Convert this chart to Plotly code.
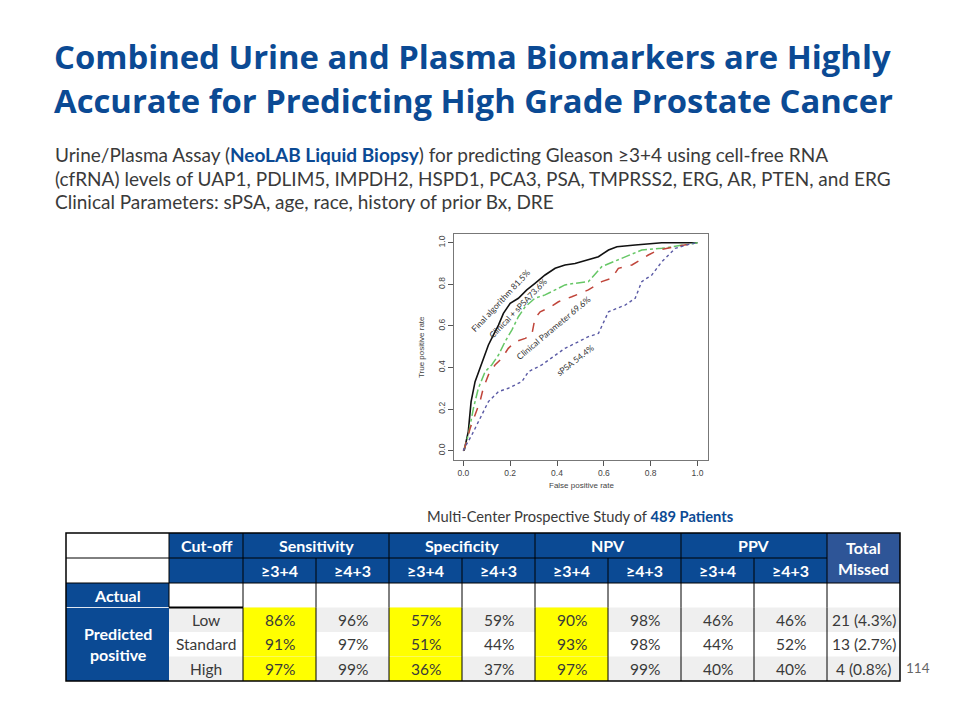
import plotly.graph_objects as go

# ---------------- data ----------------
final_fpr = [0.0, 0.004, 0.021, 0.033, 0.050, 0.071, 0.093, 0.107, 0.128, 0.150, 0.171, 0.200, 0.235, 0.271, 0.306, 0.349, 0.392, 0.434, 0.477, 0.534, 0.577, 0.620, 0.656, 0.734, 0.848, 1.0]
final_tpr = [0.0, 0.003, 0.091, 0.236, 0.332, 0.396, 0.460, 0.508, 0.556, 0.604, 0.660, 0.709, 0.733, 0.773, 0.805, 0.845, 0.877, 0.893, 0.900, 0.917, 0.933, 0.965, 0.981, 0.989, 1.0, 1.0]

clin_spsa_fpr = [0.0, 0.004, 0.021, 0.043, 0.064, 0.093, 0.121, 0.150, 0.178, 0.207, 0.235, 0.264, 0.306, 0.349, 0.392, 0.434, 0.477, 0.534, 0.591, 0.662, 0.762, 0.848, 0.947, 1.0]
clin_spsa_tpr = [0.0, 0.008, 0.075, 0.204, 0.300, 0.380, 0.412, 0.460, 0.524, 0.580, 0.644, 0.692, 0.733, 0.749, 0.773, 0.797, 0.805, 0.813, 0.885, 0.917, 0.965, 0.973, 0.989, 1.0]

clin_fpr = [0.0, 0.006, 0.029, 0.050, 0.071, 0.085, 0.107, 0.135, 0.164, 0.192, 0.221, 0.264, 0.292, 0.306, 0.328, 0.363, 0.406, 0.463, 0.534, 0.591, 0.634, 0.662, 0.720, 0.790, 0.833, 0.905, 1.0]
clin_tpr = [0.0, 0.015, 0.108, 0.172, 0.236, 0.300, 0.364, 0.412, 0.444, 0.492, 0.524, 0.540, 0.556, 0.637, 0.668, 0.685, 0.716, 0.740, 0.773, 0.813, 0.829, 0.877, 0.893, 0.941, 0.965, 0.981, 1.0]

spsa_fpr = [0.0, 0.006, 0.036, 0.079, 0.107, 0.150, 0.192, 0.250, 0.278, 0.335, 0.392, 0.434, 0.477, 0.534, 0.577, 0.620, 0.691, 0.734, 0.762, 0.805, 0.848, 0.905, 0.962, 1.0]
spsa_tpr = [0.0, 0.015, 0.075, 0.172, 0.236, 0.284, 0.300, 0.332, 0.380, 0.412, 0.460, 0.492, 0.516, 0.548, 0.564, 0.668, 0.700, 0.733, 0.813, 0.845, 0.909, 0.973, 0.992, 1.0]

curve_labels = ["Final algorithm 81.5%", "Clinical + sPSA73.6%", "Clinical Parameter 69.6%", "sPSA 54.4%"]

col_groups = ["Sensitivity", "Specificity", "NPV", "PPV"]
sub_heads = ["≥3+4", "≥4+3"]
cutoffs = ["Low", "Standard", "High"]
sens_34 = ["86%", "91%", "97%"]
sens_43 = ["96%", "97%", "99%"]
spec_34 = ["57%", "51%", "36%"]
spec_43 = ["59%", "44%", "37%"]
npv_34 = ["90%", "93%", "97%"]
npv_43 = ["98%", "98%", "99%"]
ppv_34 = ["46%", "44%", "40%"]
ppv_43 = ["46%", "52%", "40%"]
total_missed = ["21 (4.3%)", "13 (2.7%)", "4 (0.8%)"]

# ---------------- styles / page geometry ----------------
BLUE = "#0B4A94"
BLUE2 = "#2E5597"
TXT = "#3a3a3a"
FONT = "Lato"
OFF = 8            # page body margin of the browser
W, H = 944, 704    # figure size (fits inside the 960x720 window)


def px(x):
    return (x - OFF) / W


def py(y):
    return 1 - (y - OFF) / H


fig = go.Figure()

# ROC curves
fig.add_trace(go.Scatter(x=final_fpr, y=final_tpr, mode="lines", line=dict(color="#111111", width=1.6), xaxis="x", yaxis="y"))
fig.add_trace(go.Scatter(x=clin_spsa_fpr, y=clin_spsa_tpr, mode="lines", line=dict(color="#66c766", width=1.5, dash="dashdot"), xaxis="x", yaxis="y"))
fig.add_trace(go.Scatter(x=clin_fpr, y=clin_tpr, mode="lines", line=dict(color="#c0453a", width=1.5, dash="dash"), xaxis="x", yaxis="y"))
fig.add_trace(go.Scatter(x=spsa_fpr, y=spsa_tpr, mode="lines", line=dict(color="#5a5aa5", width=1.4, dash="dot"), xaxis="x", yaxis="y"))

ann = []
label_pos = [(0.158, 0.722, -47), (0.236, 0.684, -46), (0.385, 0.590, -40), (0.480, 0.436, -38)]
for lab, (lx, ly, ang) in zip(curve_labels, label_pos):
    ann.append(dict(x=lx, y=ly, xref="x", yref="y", text=lab, showarrow=False, textangle=ang,
                    font=dict(family=FONT, size=8.5, color="#333")))

ann.append(dict(x=px(581), y=py(492), xref="paper", yref="paper", text="False positive rate", showarrow=False,
                font=dict(family="Liberation Sans", size=8, color="#444")))
ann.append(dict(x=px(422), y=py(347), xref="paper", yref="paper", text="True positive rate", showarrow=False, textangle=-90,
                font=dict(family="Liberation Sans", size=8, color="#444")))

# Title and text
title_lines = ["Combined Urine and Plasma Biomarkers are Highly", "Accurate for Predicting High Grade Prostate Cancer"]
for i, t in enumerate(title_lines):
    ann.append(dict(x=px(52), y=py(57 + 44 * i), xref="paper", yref="paper", xanchor="left", yanchor="middle",
                    text="<b>" + t + "</b>", showarrow=False, font=dict(family="Open Sans", size=32.8, color=BLUE)))
sub_lines = [
    'Urine/Plasma Assay (<b><span style="color:%s">NeoLAB Liquid Biopsy</span></b>) for predicting Gleason ≥3+4 using cell-free RNA' % BLUE,
    "(cfRNA) levels of UAP1, PDLIM5, IMPDH2, HSPD1, PCA3, PSA, TMPRSS2, ERG, AR, PTEN, and ERG",
    "Clinical Parameters: sPSA, age, race, history of prior Bx, DRE",
]
for i, t in enumerate(sub_lines):
    ann.append(dict(x=px(53), y=py(155 + 23 * i), xref="paper", yref="paper", xanchor="left", yanchor="middle",
                    text=t, showarrow=False, font=dict(family=FONT, size=19, color=TXT)))
ann.append(dict(x=px(580), y=py(516), xref="paper", yref="paper", xanchor="center", yanchor="middle",
                text='Multi-Center Prospective Study of <b><span style="color:%s">489 Patients</span></b>' % BLUE,
                showarrow=False, font=dict(family=FONT, size=14.7, color=TXT)))
ann.append(dict(x=px(904), y=py(678), xref="paper", yref="paper", xanchor="left", text="114", showarrow=False,
                font=dict(family=FONT, size=13.5, color="#666")))

# ---------------- table (drawn on a pixel-scaled helper axis) ----------------
x0, y0 = 66, 533
col_w = [103, 74] + [73] * 9
row_h = [25, 25, 24.5, 24.5, 24.5, 24.5]
cx = [x0]
for w in col_w:
    cx.append(cx[-1] + w)
ry = [y0]
for h in row_h:
    ry.append(ry[-1] + h)

shapes = []


def rect(c0, c1, r0, r1, fill):
    shapes.append(dict(type="rect", xref="x2", yref="y2", x0=cx[c0], x1=cx[c1], y0=ry[r0], y1=ry[r1],
                       fillcolor=fill, line=dict(width=0), layer="below"))


def txt(c0, c1, r0, r1, s, color=TXT, bold=False, size=15.5):
    ann.append(dict(x=(cx[c0] + cx[c1]) / 2, y=(ry[r0] + ry[r1]) / 2, xref="x2", yref="y2",
                    text=("<b>%s</b>" % s) if bold else s, showarrow=False,
                    font=dict(family=FONT, size=size, color=color)))


def line(xa, ya, xb, yb, color="#000", width=1):
    shapes.append(dict(type="line", xref="x2", yref="y2", x0=xa, y0=ya, x1=xb, y1=yb,
                       line=dict(color=color, width=width), layer="above"))


HB = 16
# header rows
rect(0, 1, 0, 2, "white")
rect(1, 10, 0, 2, BLUE)
rect(10, 11, 0, 2, BLUE2)
txt(1, 2, 0, 1, "Cut-off", "white", True, HB)
for g, name in enumerate(col_groups):
    txt(2 + 2 * g, 4 + 2 * g, 0, 1, name, "white", True, HB)
    for s, sh in enumerate(sub_heads):
        txt(2 + 2 * g + s, 3 + 2 * g + s, 1, 2, sh, "white", True, HB)
txt(10, 11, 0, 2, "Total<br>Missed", "white", True, HB)

# Actual row
rect(0, 1, 2, 3, BLUE)
rect(1, 11, 2, 3, "white")
txt(0, 1, 2, 3, "Actual", "white", True, HB)

# body
rect(0, 1, 3, 6, BLUE)
txt(0, 1, 3, 6, "Predicted<br>positive", "white", True, HB)
body_cols = [sens_34, sens_43, spec_34, spec_43, npv_34, npv_43, ppv_34, ppv_43, total_missed]
yellow_cols = {0, 2, 4}
for r in range(3):
    band = "#efefef" if r != 1 else "white"
    rect(1, 11, 3 + r, 4 + r, band)
    txt(1, 2, 3 + r, 4 + r, cutoffs[r])
    for c, vals in enumerate(body_cols):
        if c in yellow_cols:
            rect(2 + c, 3 + c, 3 + r, 4 + r, "#ffff00")
        txt(2 + c, 3 + c, 3 + r, 4 + r, vals[r])

# grid lines
line(cx[0], ry[1], cx[10], ry[1])
line(cx[0], ry[2], cx[11], ry[2])
line(cx[1], ry[3], cx[2], ry[3], width=2)
line(cx[0], ry[3], cx[1], ry[3], color="#dfe6f0", width=1)
for e in [1, 2, 4, 6, 8, 10]:
    line(cx[e], ry[0], cx[e], ry[1])
for e in range(1, 11):
    line(cx[e], ry[1], cx[e], ry[3])
for e in range(2, 11):
    line(cx[e], ry[3], cx[e], ry[6])
shapes.append(dict(type="rect", xref="x2", yref="y2", x0=cx[0], x1=cx[11], y0=ry[0], y1=ry[6],
                   line=dict(color="#000", width=1.5), layer="above"))

tick_font = dict(family="Liberation Sans", size=8.5, color="#444")
fig.update_layout(
    width=W, height=H, margin=dict(l=0, r=0, t=0, b=0),
    paper_bgcolor="white", plot_bgcolor="rgba(0,0,0,0)", showlegend=False,
    xaxis=dict(domain=[px(454), px(708)], range=[-0.04, 1.045], tickvals=[0, 0.2, 0.4, 0.6, 0.8, 1.0],
               tickformat=".1f", ticks="outside", ticklen=5, tickcolor="#555", showline=True, mirror=True,
               linecolor="#777", linewidth=1, showgrid=False, zeroline=False,
               tickfont=tick_font, anchor="y"),
    yaxis=dict(domain=[py(460), py(234)], range=[-0.045, 1.042], tickvals=[0, 0.2, 0.4, 0.6, 0.8, 1.0],
               tickformat=".1f", ticks="outside", ticklen=5, tickcolor="#555", showline=True, mirror=True,
               linecolor="#777", linewidth=1, showgrid=False, zeroline=False, tickangle=-90,
               tickfont=tick_font, anchor="x"),
    xaxis2=dict(domain=[0, 1], range=[OFF, OFF + W], visible=False, anchor="y2", fixedrange=True),
    yaxis2=dict(domain=[0, 1], range=[OFF + H, OFF], visible=False, anchor="x2", fixedrange=True),
    shapes=shapes, annotations=ann,
)

fig.write_html("out.html")
